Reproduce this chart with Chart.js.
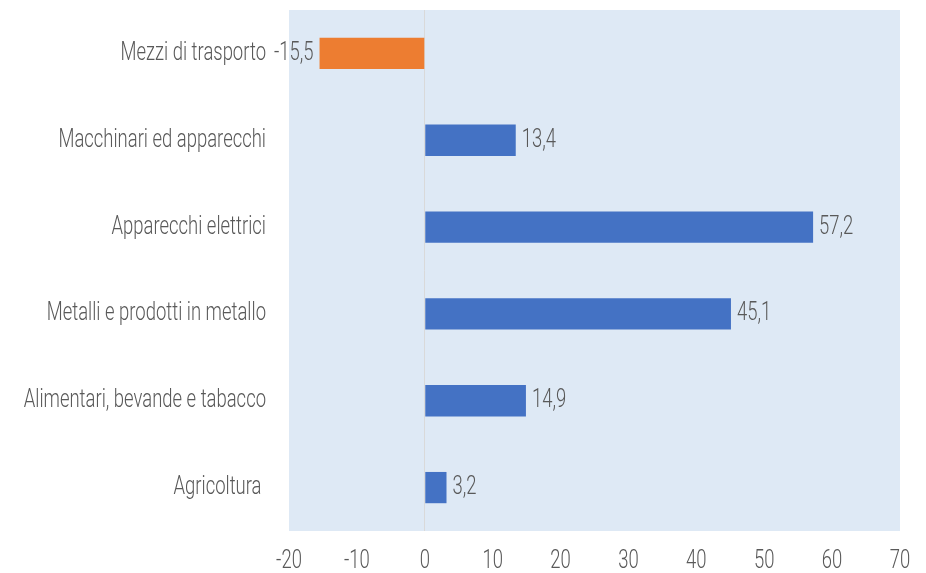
<!DOCTYPE html>
<html>
<head>
<meta charset="utf-8">
<script src="https://cdn.jsdelivr.net/npm/chart.js@4.4.0/dist/chart.umd.min.js"></script>
<style>
  html, body { margin: 0; padding: 0; background: #ffffff; }
  #wrap { width: 926px; height: 573px; }
</style>
</head>
<body>
<div id="wrap"><canvas id="chart"></canvas></div>
<script>
const categories = ['Mezzi di trasporto', 'Macchinari ed apparecchi', 'Apparecchi elettrici',
    'Metalli e prodotti in metallo', 'Alimentari, bevande e tabacco', 'Agricoltura '];
const values = [-15.5, 13.4, 57.2, 45.1, 14.9, 3.2];
const xMin = -20, xMax = 70, xStep = 10;

// no condensed face installed, so text is squeezed horizontally by hand
const FONT = "300 26px Roboto, 'Noto Sans', sans-serif";
const SQUEEZE = 0.71;
const TEXT = '#595959';

function barColor(v){
    return v < 0 ? '#ED7D31' : '#4472C4'
}

function narrowText(ctx, txt, x, y, align){
    ctx.save();
    ctx.translate(x, y);
    ctx.scale(SQUEEZE, 1);
    ctx.textAlign = align;
    ctx.fillText(txt, 0, 0);
    ctx.restore();
}

const plotBg = {
    id: 'plotBg',
    beforeDraw(chart){
        const a = chart.chartArea, ctx = chart.ctx;
        ctx.save();
        ctx.fillStyle = '#DEE9F5';
        ctx.fillRect(a.left, a.top, a.right - a.left, a.bottom - a.top);
        ctx.restore();
    }
};

const axisText = {
    id: 'axisText',
    afterDraw(chart){
        const ctx = chart.ctx;
        const xs = chart.scales.x, ys = chart.scales.y;
        ctx.save();
        ctx.font = FONT;
        ctx.fillStyle = TEXT;
        ctx.textBaseline = 'middle';
        xs.ticks.forEach((t, i) => {
            narrowText(ctx, String(t.value), xs.getPixelForTick(i), 561, 'center');
        });
        ys.ticks.forEach((t, i) => {
            narrowText(ctx, categories[t.value], 266, ys.getPixelForTick(i), 'right');
        });
        ctx.restore();
    }
};

const valueLabels = {
    id: 'valueLabels',
    afterDatasetsDraw(chart){
        const ctx = chart.ctx;
        const meta = chart.getDatasetMeta(0);
        ctx.save();
        ctx.font = FONT;
        ctx.fillStyle = TEXT;
        ctx.textBaseline = 'middle';
        meta.data.forEach((bar, i) => {
            const v = values[i];
            const txt = String(v).replace('.', ',');
            if (v < 0)
                narrowText(ctx, txt, bar.x - 6, bar.y, 'right');
            else
                narrowText(ctx, txt, bar.x + 6, bar.y, 'left');
        });
        ctx.restore();
    }
};

new Chart(document.getElementById('chart').getContext('2d'), {
    type: 'bar',
    data: {
        labels: categories,
        datasets: [{
            data: values,
            backgroundColor: values.map(barColor),
            categoryPercentage: 1,
            barPercentage: 0.36
        }]
    },
    options: {
        indexAxis: 'y',
        responsive: true,
        maintainAspectRatio: false,
        animation: false,
        layout: { padding: { top: 10, right: 26, left: 0, bottom: 0 } },
        plugins: { legend: { display: false }, tooltip: { enabled: false } },
        scales: {
            x: {
                min: xMin, max: xMax,
                ticks: { stepSize: xStep, display: false },
                grid: {
                    drawTicks: false,
                    color: ctx => ctx.tick && ctx.tick.value === 0 ? '#D9D9D9' : 'rgba(0,0,0,0)'
                },
                border: { display: false },
                afterFit(scale){
                    scale.height = 42;
                    scale.paddingLeft = 0; scale.paddingRight = 0;
                }
            },
            y: {
                ticks: { display: false },
                grid: { display: false, drawTicks: false },
                border: { display: false },
                afterFit(scale){
                    scale.width = 289;
                    scale.paddingTop = 0; scale.paddingBottom = 0;
                }
            }
        }
    },
    plugins: [plotBg, axisText, valueLabels]
});
</script>
</body>
</html>
